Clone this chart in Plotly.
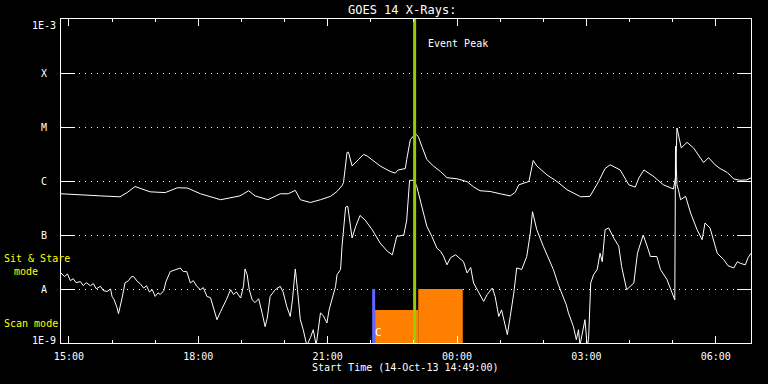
import math
import pandas as pd
import plotly.graph_objects as go

START = pd.Timestamp("2013-10-14 14:49:00")
END = pd.Timestamp("2013-10-15 06:49:00")

# GOES 14 long channel (1-8 A), minutes after start, flux W/m^2
long_min = [0, 27, 55, 82, 92, 103, 113, 124, 145, 162, 176, 194, 222, 249, 261, 270,
            288, 305, 316, 326, 333, 347, 361, 375, 384, 391, 393, 398, 400, 405, 414,
            421, 426, 444, 458, 465, 469, 479, 481, 486, 493, 497, 502, 509, 518, 528,
            537, 551, 565, 574, 583, 597, 611, 625, 632, 637, 651, 653, 657, 662, 676,
            690, 704, 723, 736, 748, 757, 764, 778, 790, 799, 804, 811, 825, 838, 852,
            855, 857, 863, 871, 880, 894, 901, 910, 917, 927, 936, 945, 954, 960]
long_flux = [5.8e-7, 5.5e-7, 5.3e-7, 5.1e-7, 6.1e-7, 7.9e-7, 7.2e-7, 6.3e-7, 6.1e-7, 7.5e-7,
             7.4e-7, 5.8e-7, 4.5e-7, 5.3e-7, 6.6e-7, 5.3e-7, 4.5e-7, 5.8e-7, 5.8e-7, 6.7e-7,
             4.5e-7, 4.0e-7, 4.5e-7, 5.2e-7, 6.4e-7, 8.2e-7, 9.3e-7, 3.4e-6, 3.4e-6, 1.9e-6,
             2.5e-6, 3.1e-6, 2.9e-6, 1.9e-6, 1.5e-6, 1.4e-6, 1.6e-6, 1.7e-6, 2.5e-6, 5.8e-6,
             7.5e-6, 6.7e-6, 4.4e-6, 2.5e-6, 1.9e-6, 1.5e-6, 1.15e-6, 1.1e-6, 9.7e-7, 7.8e-7,
             6.6e-7, 6.4e-7, 5.8e-7, 5.3e-7, 6.2e-7, 8.5e-7, 9.8e-7, 1.4e-6, 2.4e-6, 1.9e-6,
             1.3e-6, 9.8e-7, 6.9e-7, 5.1e-7, 5.2e-7, 9.8e-7, 1.7e-6, 2.0e-6, 1.6e-6, 8.5e-7,
             7.7e-7, 1.14e-6, 1.6e-6, 1.2e-6, 8.5e-7, 7.1e-7, 1.15e-6, 9.6e-6, 4.1e-6, 5.2e-6,
             4.1e-6, 2.2e-6, 2.7e-6, 2.0e-6, 1.7e-6, 1.44e-6, 1.09e-6, 1.03e-6, 1.05e-6, 1.14e-6]

# GOES 14 short channel (0.5-4 A)
short_min = [0, 5, 9, 13, 17, 21, 27, 31, 35, 41, 45, 49, 55, 59, 64, 69, 71, 74, 78, 80,
             85, 89, 94, 98, 101, 106, 110, 115, 119, 123, 127, 131, 135, 138, 143, 146,
             152, 159, 166, 170, 175, 180, 184, 189, 194, 198, 203, 208, 212, 217, 222,
             226, 230, 236, 240, 244, 250, 254, 256, 259, 262, 266, 270, 275, 277, 280,
             284, 287, 291, 298, 305, 309, 314, 319, 322, 326, 329, 333, 337, 342, 347,
             351, 355, 361, 365, 370, 373, 377, 382, 384, 389, 391, 393, 396, 399, 400,
             405, 410, 416, 423, 433, 444, 454, 461, 467, 477, 481, 485, 491, 495, 502,
             509, 516, 523, 528, 532, 537, 542, 549, 556, 560, 565, 570, 574, 581, 588,
             593, 600, 604, 609, 613, 616, 621, 625, 630, 634, 641, 648, 653, 656, 662,
             671, 685, 692, 699, 703, 706, 710, 713, 717, 720, 722, 725, 729, 732, 734,
             737, 741, 746, 750, 753, 757, 762, 769, 776, 780, 787, 792, 797, 802, 810,
             817, 820, 829, 834, 843, 850, 854, 855, 857, 859, 862, 869, 876, 885, 892,
             896, 903, 913, 922, 928, 936, 941, 945, 952, 956, 960]
short_flux = [1.98e-8, 1.7e-8, 1.9e-8, 1.43e-8, 1.55e-8, 1.31e-8, 1.37e-8, 1.15e-8, 1.31e-8,
              1.15e-8, 1.26e-8, 1.01e-8, 1.12e-8, 9.3e-9, 9.0e-9, 1.0e-8, 7.3e-9, 6.3e-9,
              4.5e-9, 3.5e-9, 6.8e-9, 1.29e-8, 1.43e-8, 1.69e-8, 1.7e-8, 1.39e-8, 1.26e-8,
              1.04e-8, 1.15e-8, 8.8e-9, 9.7e-9, 7.3e-9, 8.5e-9, 7.9e-9, 9.3e-9, 1.37e-8,
              2.1e-8, 2.3e-8, 2.45e-8, 2.1e-8, 2.1e-8, 1.29e-8, 1.43e-8, 1.12e-8, 9.7e-9,
              1.06e-8, 7.3e-9, 6.9e-9, 4.5e-9, 2.7e-9, 3.8e-9, 4.8e-9, 6.3e-9, 9.7e-9,
              7.9e-9, 8.8e-9, 6.8e-9, 1.15e-8, 2.35e-8, 1.84e-8, 9.7e-9, 6.3e-9, 5.6e-9,
              6.6e-9, 4.8e-9, 3.5e-9, 2.0e-9, 2.9e-9, 7.3e-9, 9.7e-9, 1.12e-8, 8.8e-9,
              4.8e-9, 3.1e-9, 6.3e-9, 2.35e-8, 9.7e-9, 2.7e-9, 1.76e-9, 9e-10, 1.26e-9,
              1.76e-9, 9e-10, 3.6e-9, 3.2e-9, 2.35e-9, 4.1e-9, 6.3e-9, 1.12e-8, 1.84e-8,
              2.3e-8, 6.2e-8, 1.25e-7, 3.3e-7, 3.4e-7, 2.6e-7, 8.8e-8, 1.44e-7, 2.3e-7,
              1.9e-7, 1.25e-7, 7.1e-8, 5.0e-8, 4.3e-8, 9.4e-8, 1.0e-7, 1.9e-7, 1.03e-6,
              1.03e-6, 7.9e-7, 3.4e-7, 1.45e-7, 9.4e-8, 5.7e-8, 5.0e-8, 4.1e-8, 2.8e-8,
              3.8e-8, 4.3e-8, 3.5e-8, 3.2e-8, 1.98e-8, 2.5e-8, 1.29e-8, 9.0e-9, 5.9e-9,
              7.9e-9, 1.04e-8, 7.3e-9, 3.1e-9, 4.1e-9, 2.7e-9, 1.43e-9, 3.1e-9, 8.4e-9,
              2.45e-8, 2.3e-8, 4.0e-8, 1.09e-7, 2.7e-7, 1.25e-7, 6.2e-8, 2.3e-8, 1.2e-8,
              7.3e-9, 5.1e-9, 3.6e-9, 2.5e-9, 2.0e-9, 1.15e-9, 1.76e-9, 9e-10, 1.55e-9,
              2.7e-9, 9e-10, 1.15e-9, 1.29e-8, 1.84e-8, 2.3e-8, 4.6e-8, 3.2e-8, 1.25e-7,
              1.35e-7, 8.8e-8, 6.2e-8, 2.6e-8, 9.7e-9, 1.1e-8, 1.29e-8, 4.6e-8, 1.0e-7,
              5.4e-8, 4.0e-8, 4.0e-8, 2.3e-8, 1.5e-8, 8.4e-9, 6.3e-9, 4.4e-6, 8.5e-7,
              6.9e-7, 4.5e-7, 5.2e-7, 2.55e-7, 1.25e-7, 8.2e-8, 1.67e-7, 1.35e-7, 4.6e-8,
              3.5e-8, 2.7e-8, 2.45e-8, 3.2e-8, 3.0e-8, 2.8e-8, 3.8e-8, 4.6e-8]

# overlays (minutes after start)
event_peak_min = 492
marker_min = 435
scan_start, scan_end, scan_level = 437, 497, 4.1e-9
stare_start, stare_end, stare_level = 497, 559, 1.0e-8
floor_level, top_level = 1e-9, 1e-3

class_labels = ["1E-3", "X", "M", "C", "B", "A", "1E-9"]
class_levels = [1e-3, 1e-4, 1e-5, 1e-6, 1e-7, 1e-8, 1e-9]
time_ticks = ["15:00", "18:00", "21:00", "00:00", "03:00", "06:00"]

TITLE = "GOES 14 X-Rays:"
XLABEL = "Start Time (14-Oct-13 14:49:00)"


def t(m):
    return START + pd.to_timedelta(m, unit="m")


def tl(ms):
    return [t(m) for m in ms]


FONT = "DejaVu Sans Mono"
WHITE = "#ffffff"
YELLOW = "#ffff00"
ORANGE = "#ff8000"
BLUE = "#6464ff"
GREEN = "#99cc00"

fig = go.Figure()

# mode bars
for s, e, lv in [(scan_start, scan_end, scan_level), (stare_start, stare_end, stare_level)]:
    fig.add_trace(go.Scatter(x=tl([s, s, e, e, s]), y=[floor_level, lv, lv, floor_level, floor_level],
                             mode="lines", fill="toself", fillcolor=ORANGE,
                             line=dict(color=ORANGE, width=0), hoverinfo="skip", showlegend=False))

fig.add_trace(go.Scatter(x=tl([marker_min, marker_min]), y=[floor_level, stare_level], mode="lines",
                         line=dict(color=BLUE, width=3), showlegend=False))

fig.add_trace(go.Scatter(x=tl(long_min), y=long_flux, mode="lines",
                         line=dict(color=WHITE, width=1), showlegend=False))
fig.add_trace(go.Scatter(x=tl(short_min), y=short_flux, mode="lines",
                         line=dict(color=WHITE, width=1), showlegend=False))

fig.add_trace(go.Scatter(x=tl([event_peak_min, event_peak_min]), y=[floor_level, top_level], mode="lines",
                         line=dict(color=GREEN, width=3), showlegend=False))

annotations = []
for lab, lv in zip(class_labels, class_levels):
    shift = 0
    if lab == "1E-3":
        shift = -6
    elif lab == "1E-9":
        shift = 3
    annotations.append(dict(x=-0.0246, xref="paper", y=math.log10(lv), yref="y", text=lab,
                            showarrow=False, xanchor="center", yanchor="middle", yshift=shift,
                            font=dict(family=FONT, size=10, color=WHITE)))

annotations += [
    dict(x=t(event_peak_min + 16), xref="x", y=1 - 24 / 324, yref="paper", text="Event Peak",
         showarrow=False, xanchor="left", yanchor="middle", font=dict(family=FONT, size=10, color=WHITE)),
    dict(x=-0.0855, xref="paper", y=(343 - 258) / 324, yref="paper", text="Sit & Stare",
         showarrow=False, xanchor="left", yanchor="middle", font=dict(family=FONT, size=10, color=YELLOW)),
    dict(x=-0.0710, xref="paper", y=(343 - 271) / 324, yref="paper", text="mode",
         showarrow=False, xanchor="left", yanchor="middle", font=dict(family=FONT, size=10, color=YELLOW)),
    dict(x=-0.0855, xref="paper", y=(343 - 323.5) / 324, yref="paper", text="Scan mode",
         showarrow=False, xanchor="left", yanchor="middle", font=dict(family=FONT, size=10, color=YELLOW)),
    dict(x=t(scan_start - 3), xref="x", y=(343 - 332.5) / 324, yref="paper", text="C",
         showarrow=False, xanchor="left", yanchor="middle", font=dict(family=FONT, size=11, color=WHITE)),
    dict(x=(405.5 - 61) / 690, xref="paper", y=(343 - 368) / 324, yref="paper", text=XLABEL,
         showarrow=False, xanchor="center", yanchor="middle", font=dict(family=FONT, size=10, color=WHITE)),
    dict(x=(401.5 - 61) / 690, xref="paper", y=1 + 9 / 324, yref="paper", text=TITLE,
         showarrow=False, xanchor="center", yanchor="middle", font=dict(family=FONT, size=12, color=WHITE)),
]

tick_vals = []
for lab in time_ticks:
    hh, mm = lab.split(":")
    day = "2013-10-14" if int(hh) >= 14 else "2013-10-15"
    tick_vals.append(pd.Timestamp(f"{day} {lab}"))

fig.update_layout(
    width=768, height=384,
    margin=dict(l=61, r=17, t=19, b=41),
    paper_bgcolor="black", plot_bgcolor="black",
    showlegend=False,
    annotations=annotations,
    font=dict(family=FONT, size=10, color=WHITE),
)
fig.update_xaxes(
    type="date", range=[START, END],
    tickvals=tick_vals, ticktext=time_ticks,
    ticks="inside", ticklen=7, tickcolor=WHITE, tickwidth=1,
    minor=dict(dtick=3600000, tick0="2013-10-14 15:00", ticks="inside", ticklen=3, tickcolor=WHITE,
               tickwidth=1, showgrid=False),
    showline=True, linecolor=WHITE, linewidth=1, mirror="allticks",
    showgrid=False, zeroline=False, ticklabelstandoff=4,
    tickfont=dict(family=FONT, size=10, color=WHITE),
)
fig.update_yaxes(
    type="log", range=[-9, -3],
    tickvals=class_levels, showticklabels=False,
    ticks="inside", ticklen=14, tickcolor=WHITE, tickwidth=1,
    showline=True, linecolor=WHITE, linewidth=1, mirror="allticks",
    showgrid=True, gridcolor=WHITE, gridwidth=1, griddash="1px,5px",
    zeroline=False,
)

fig.write_html("out.html", config={"displayModeBar": False},
               post_script="document.body.style.margin='0px';document.body.style.background='black';")
